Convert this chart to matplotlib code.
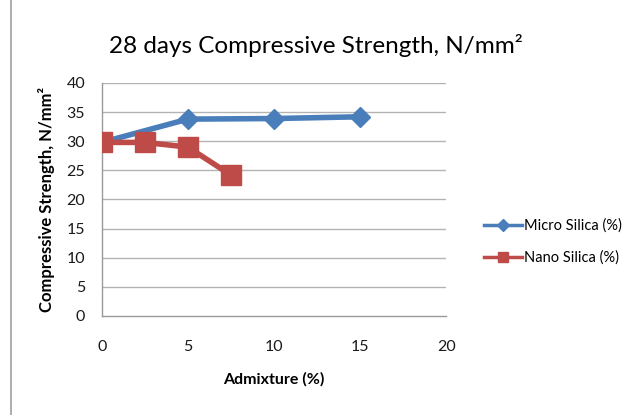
import matplotlib.pyplot as plt
from matplotlib.lines import Line2D

plt.rcParams['font.family'] = ['Lato', 'DejaVu Sans']

micro_x = [0, 5, 10, 15]
micro_y = [29.8, 33.8, 33.9, 34.2]
nano_x = [0, 2.5, 5, 7.5]
nano_y = [29.8, 29.8, 29.0, 24.2]
y_ticks = [0, 5, 10, 15, 20, 25, 30, 35, 40]
x_ticks = [0, 5, 10, 15, 20]

blue = '#4a7ebb'
red = '#be4b48'

fig = plt.figure(figsize=(6.32, 4.15), dpi=100)
ax = fig.add_axes([0.161, 0.2386, 0.545, 0.5614])

for y in y_ticks[1:]:
    ax.axhline(y, color='#b3b3b3', lw=1.0, zorder=0)

ax.plot(micro_x, micro_y, color=blue, lw=4, marker='D', markersize=10,
        markerfacecolor=blue, markeredgecolor=blue, label='Micro Silica (%)', zorder=3)
ax.plot(nano_x, nano_y, color=red, lw=4, marker='s', markersize=15,
        markerfacecolor=red, markeredgecolor=red, label='Nano Silica (%)', zorder=4)

ax.set_xlim(0, 20)
ax.set_ylim(0, 40)
ax.set_xticks(x_ticks)
ax.set_yticks(y_ticks)
ax.tick_params(axis='both', length=0, labelsize=11.5, colors='#1a1a1a')
ax.tick_params(axis='x', pad=17)
ax.tick_params(axis='y', pad=12)
for s in ['top', 'right']:
    ax.spines[s].set_visible(False)
for s in ['left', 'bottom']:
    ax.spines[s].set_color('#999999')
    ax.spines[s].set_linewidth(1.0)

ax.set_xlabel('Admixture (%)', fontsize=11.5, fontweight='bold', labelpad=13)
ax.set_ylabel('Compressive Strength, N/mm²', fontsize=12, fontweight='bold', labelpad=8)
fig.text(0.5, 0.89, '28 days Compressive Strength, N/mm²',
         ha='center', va='center', fontsize=17.5, color='black')

handles = [Line2D([], [], color=blue, lw=2.5, marker='D', markersize=6),
           Line2D([], [], color=red, lw=2.5, marker='s', markersize=7)]
fig.legend(handles, ['Micro Silica (%)', 'Nano Silica (%)'],
           loc='center left', bbox_to_anchor=(0.745, 0.418), frameon=False,
           fontsize=10.5, handlelength=2.6, handletextpad=0.15, labelspacing=1.2)

fig.add_artist(Line2D([0.018, 0.018], [0.0, 1.0], color='#a0a0a0', lw=1.2,
                      transform=fig.transFigure))

fig.savefig('out.png', dpi=100)
